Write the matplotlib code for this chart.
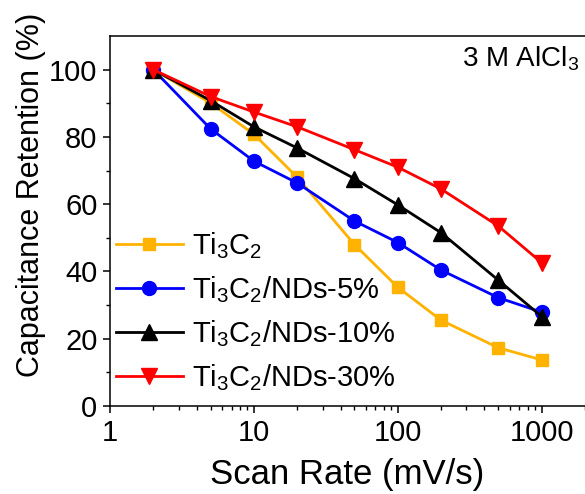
import matplotlib
matplotlib.use("Agg")
import matplotlib.pyplot as plt
from matplotlib.ticker import LogLocator, FixedLocator, NullFormatter

plt.rcParams['font.family'] = ['Liberation Sans', 'DejaVu Sans']
plt.rcParams['mathtext.fontset'] = 'custom'
plt.rcParams['mathtext.rm'] = 'Liberation Sans'
plt.rcParams['mathtext.it'] = 'Liberation Sans:italic'
plt.rcParams['mathtext.bf'] = 'Liberation Sans:bold'

scan_rate = [2, 5, 10, 20, 50, 100, 200, 500, 1000]
ti3c2 = [100, 90.1, 80.8, 68.0, 48.0, 35.3, 25.5, 17.3, 13.7]
nds5 = [100, 82.4, 72.8, 66.3, 55.0, 48.6, 40.4, 32.2, 27.9]
nds10 = [100, 90.8, 83.0, 76.7, 67.6, 59.8, 51.5, 37.4, 26.6]
nds30 = [100, 92.0, 87.4, 83.0, 76.2, 71.0, 64.5, 53.5, 42.6]

labels = [r'Ti$_\mathregular{3}$C$_\mathregular{2}$',
          r'Ti$_\mathregular{3}$C$_\mathregular{2}$/NDs-5%',
          r'Ti$_\mathregular{3}$C$_\mathregular{2}$/NDs-10%',
          r'Ti$_\mathregular{3}$C$_\mathregular{2}$/NDs-30%']

fig = plt.figure(figsize=(5.85, 4.94), dpi=100)
ax = fig.add_axes([110/585, 1 - 406/494, 1 - 110/585, (406 - 36)/494])

lw = 2.0
ax.plot(scan_rate, ti3c2, color='#FFB300', marker='s', ms=8, lw=lw, label=labels[0])
ax.plot(scan_rate, nds5, color='#0000FF', marker='o', ms=10, lw=lw, label=labels[1])
ax.plot(scan_rate, nds10, color='#000000', marker='^', ms=12, lw=lw, label=labels[2])
ax.plot(scan_rate, nds30, color='#FF0000', marker='v', ms=12, lw=lw, label=labels[3])

ax.set_xscale('log')
ax.set_xlim(1, 2000)
ax.set_ylim(0, 110)
ax.set_xticks([1, 10, 100, 1000])
ax.set_xticklabels(['1', '10', '100', '1000'])
ax.xaxis.set_minor_locator(LogLocator(base=10, subs=range(2, 10), numticks=20))
ax.xaxis.set_minor_formatter(NullFormatter())
ax.yaxis.set_major_locator(FixedLocator([0, 20, 40, 60, 80, 100]))
ax.yaxis.set_minor_locator(FixedLocator([10, 30, 50, 70, 90]))

for s in ['left', 'bottom', 'top']:
    ax.spines[s].set_linewidth(1.1)
ax.spines['right'].set_visible(False)

ax.tick_params(which='major', direction='out', length=5, width=1.1, labelsize=21, pad=4,
               top=False, right=False)
ax.tick_params(which='minor', direction='out', length=3, width=1.0, top=False, right=False)

ax.set_xlabel('Scan Rate (mV/s)', fontsize=25, labelpad=8)
ax.set_ylabel('Capacitance Retention (%)', fontsize=22)
ax.yaxis.set_label_coords(-0.135, 0.57)

ax.text(0.988, 0.978, r'3 M AlCl$_\mathregular{3}$', transform=ax.transAxes, fontsize=20,
        ha='right', va='top')

leg = ax.legend(loc='lower left', bbox_to_anchor=(0.012, 0.035), frameon=False, fontsize=21,
                handlelength=2.3, handletextpad=0.3, labelspacing=0.45, borderpad=0,
                borderaxespad=0)

fig.savefig('out.png', dpi=100)
